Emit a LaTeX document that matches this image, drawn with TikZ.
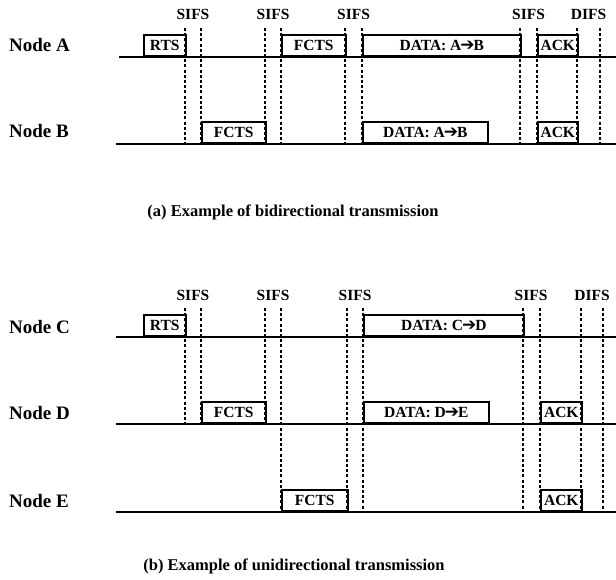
\documentclass[tikz,border=0pt]{standalone}
\usepackage{fontspec}
\setmainfont{Liberation Serif}
\newfontfamily\arrowfont{DejaVu Sans}
% heavy arrow used inside the data frames
\newcommand{\dataarrow}{{\arrowfont\bfseries\fontsize{17}{17}\selectfont\kern-1pt\raisebox{-0.3pt}{➔}\kern-1pt}}
\begin{document}
\begin{tikzpicture}[x=1pt,y=-1pt,
  nodelbl/.style={font=\fontsize{19}{19}\selectfont\bfseries, anchor=base west, inner sep=0pt},
  pkt/.style={draw, line width=1.6pt, anchor=south west, minimum height=21pt,
              inner sep=0pt, font=\fontsize{15.5}{15.5}\selectfont\bfseries},
  tline/.style={line width=1.6pt},
  gap/.style={line width=1.6pt, dash pattern=on 3pt off 2.2pt},
  ifs/.style={font=\fontsize{15.5}{15.5}\selectfont\bfseries, inner sep=0pt, anchor=base},
  capt/.style={font=\fontsize{16.5}{16.5}\selectfont\bfseries, inner sep=0pt, anchor=base}
]
\useasboundingbox (0,0) rectangle (616,580);

% ---------------- (a) bidirectional ----------------
\node[nodelbl] (lA) at (9,52) {Node A};
\node[nodelbl] (lB) at (9,138) {Node B};

\coordinate (A0) at (119,57);  \coordinate (A1) at (616,57);
\coordinate (B0) at (116,144); \coordinate (B1) at (616,144);
\draw[tline] (A0) -- (A1);
\draw[tline] (B0) -- (B1);

% interframe spaces
\foreach \x [count=\i] in {185,201,265,281,345,362,520,537,577,600} {
  \coordinate (ta\i) at (\x,28);
  \coordinate (ba\i) at (\x,144);
  \draw[gap] (ta\i) -- (ba\i);
}
\node[ifs] (sa1) at (193,20) {SIFS};
\node[ifs] (sa2) at (273,20) {SIFS};
\node[ifs] (sa3) at (353.5,20) {SIFS};
\node[ifs] (sa4) at (528.5,20) {SIFS};
\node[ifs] (da1) at (588.5,20) {DIFS};

% frames of node A
\node[pkt, minimum width=42pt]  (rtsA)  at (143,57) {RTS};
\node[pkt, minimum width=64pt]  (fctsA) at (281,57) {FCTS};
\node[pkt, minimum width=158pt] (dataA) at (362,57) {DATA: A\dataarrow B};
\node[pkt, minimum width=40pt]  (ackA)  at (537,57) {ACK};
% frames of node B
\node[pkt, minimum width=64pt]  (fctsB) at (201,144) {FCTS};
\node[pkt, minimum width=125pt] (dataB) at (362,144) {DATA: A\dataarrow B};
\node[pkt, minimum width=40pt]  (ackB)  at (537,144) {ACK};

\node[capt] (capa) at (293,217) {(a) Example of bidirectional transmission};

% ---------------- (b) unidirectional ----------------
\node[nodelbl] (lC) at (9,333) {Node C};
\node[nodelbl] (lD) at (9,419) {Node D};
\node[nodelbl] (lE) at (9,507) {Node E};

\coordinate (C0) at (116,337); \coordinate (C1) at (616,337);
\coordinate (D0) at (116,424); \coordinate (D1) at (616,424);
\coordinate (E0) at (116,512); \coordinate (E1) at (616,512);
\draw[tline] (C0) -- (C1);
\draw[tline] (D0) -- (D1);
\draw[tline] (E0) -- (E1);

% spaces ending at node D
\foreach \x [count=\i] in {185,201,265} {
  \coordinate (tb\i) at (\x,308);
  \coordinate (bb\i) at (\x,424);
  \draw[gap] (tb\i) -- (bb\i);
}
% spaces reaching node E
\foreach \x [count=\i] in {281,347,363,523,540,581,603} {
  \coordinate (tc\i) at (\x,308);
  \coordinate (bc\i) at (\x,512);
  \draw[gap] (tc\i) -- (bc\i);
}
\node[ifs] (sb1) at (193,300) {SIFS};
\node[ifs] (sb2) at (273,300) {SIFS};
\node[ifs] (sb3) at (355,300) {SIFS};
\node[ifs] (sb4) at (531,300) {SIFS};
\node[ifs] (db1) at (592,300) {DIFS};

% frames of node C
\node[pkt, minimum width=42pt]  (rtsC)  at (143,337) {RTS};
\node[pkt, minimum width=160pt] (dataC) at (363,337) {DATA: C\dataarrow D};
% frames of node D
\node[pkt, minimum width=64pt]  (fctsD) at (201,424) {FCTS};
\node[pkt, minimum width=125pt] (dataD) at (363,424) {DATA: D\dataarrow E};
\node[pkt, minimum width=41pt]  (ackD)  at (540,424) {ACK};
% frames of node E
\node[pkt, minimum width=66pt]  (fctsE) at (281,512) {FCTS};
\node[pkt, minimum width=41pt]  (ackE)  at (540,512) {ACK};

\node[capt] (capb) at (294,570) {(b) Example of unidirectional transmission};
\end{tikzpicture}
\end{document}
